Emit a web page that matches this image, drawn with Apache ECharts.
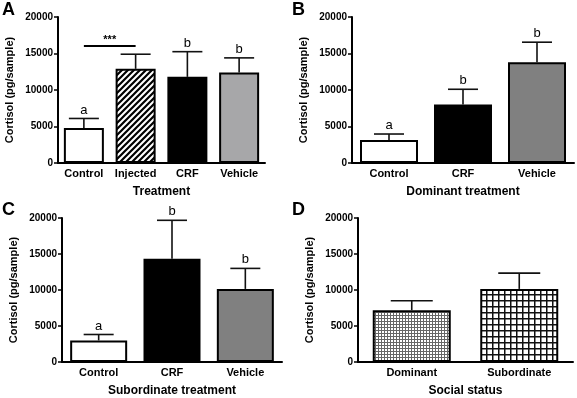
<!DOCTYPE html>
<html>
<head>
<meta charset="utf-8">
<script src="https://cdn.jsdelivr.net/npm/echarts@6/dist/echarts.min.js"></script>
<style>
  html, body { margin: 0; padding: 0; background: #fff; }
  #chart { width: 577px; height: 398px; }
</style>
</head>
<body>
<div id="chart"></div>
<script>
// values (mean and upper error = SEM)
const catsA = ['Control', 'Injected', 'CRF', 'Vehicle']
const meanA = [4800, 12900, 11800, 12400]
const semA = [1300, 2000, 3450, 2000]
const lettersA = ['a', '', 'b', 'b']
const sigA = 16000

const catsB = ['Control', 'CRF', 'Vehicle']
const meanB = [3150, 8000, 13800]
const semB = [820, 2100, 2750]
const lettersB = ['a', 'b', 'b']

const catsC = ['Control', 'CRF', 'Vehicle']
const meanC = [3000, 14350, 10150]
const semC = [820, 5330, 2850]
const lettersC = ['a', 'b', 'b']

const catsD = ['Dominant', 'Subordinate']
const meanD = [7200, 10150]
const semD = [1300, 2200]
const lettersD = ['', '']

const yTicks = [0, 5000, 10000, 15000, 20000]

const FONT = 'Arial, "Liberation Sans", sans-serif'

// fill patterns
const makePattern = (size, draw) => {
  const c = document.createElement('canvas')
  c.width = size
  c.height = size
  const ctx = c.getContext('2d')
  ctx.fillStyle = '#fff'
  ctx.fillRect(0, 0, size, size)
  draw(ctx, size)
  return { image: c, repeat: 'repeat' }
}

const hatch = makePattern(6, (ctx, s) => {
  ctx.strokeStyle = '#000'
  ctx.lineWidth = 2.2
  ctx.beginPath()
  ctx.moveTo(0, s); ctx.lineTo(s, 0)
  ctx.moveTo(-s / 2, s / 2); ctx.lineTo(s / 2, -s / 2)
  ctx.moveTo(s / 2, s * 1.5); ctx.lineTo(s * 1.5, s / 2)
  ctx.stroke()
})

const fineGrid = makePattern(3, (ctx, s) => {
  ctx.fillStyle = '#666'
  ctx.fillRect(0, 0, 1, s)
  ctx.fillRect(0, 0, s, 1)
})

const coarseGrid = makePattern(6, (ctx, s) => {
  ctx.fillStyle = '#111'
  ctx.fillRect(0, 0, 1.5, s)
  ctx.fillRect(0, 0, s, 1.5)
})

const fillsA = ['#fff', hatch, '#000', '#a7a7a9']
const fillsB = ['#fff', '#000', '#808080']
const fillsC = ['#fff', '#000', '#808080']
const fillsD = [fineGrid, coarseGrid]

const panels = [
  { letter: 'A', cats: catsA, mean: meanA, sem: semA, letters: lettersA, fills: fillsA, name: 'Treatment',
    grid: { left: 58, top: 17, width: 207, height: 146 }, barWidth: 40, cap: 30, title: { left: 2, top: 1 } },
  { letter: 'B', cats: catsB, mean: meanB, sem: semB, letters: lettersB, fills: fillsB, name: 'Dominant treatment',
    grid: { left: 352, top: 17, width: 222, height: 146 }, barWidth: 58, cap: 30, title: { left: 292, top: 1 } },
  { letter: 'C', cats: catsC, mean: meanC, sem: semC, letters: lettersC, fills: fillsC, name: 'Subordinate treatment',
    grid: { left: 62, top: 218, width: 220, height: 146 }, barWidth: 57, cap: 30, title: { left: 2, top: 201 } },
  { letter: 'D', cats: catsD, mean: meanD, sem: semD, letters: lettersD, fills: fillsD, name: 'Social status',
    grid: { left: 358, top: 218, width: 215, height: 146 }, barWidth: 78, cap: 42, title: { left: 292, top: 201 } }
]

const errorSeries = (p, i) => ({
  type: 'custom',
  xAxisIndex: i,
  yAxisIndex: i,
  z: 1,
  silent: true,
  data: p.mean.map((m, k) => [k, m, m + p.sem[k]]),
  renderItem: (params, api) => {
    const lo = api.coord([api.value(0), api.value(1)])
    const hi = api.coord([api.value(0), api.value(2)])
    const half = p.cap / 2
    const style = { stroke: '#111', lineWidth: 1.6 }
    const children = [
      { type: 'line', shape: { x1: lo[0], y1: lo[1], x2: hi[0], y2: hi[1] }, style },
      { type: 'line', shape: { x1: hi[0] - half, y1: hi[1], x2: hi[0] + half, y2: hi[1] }, style }
    ]
    const t = p.letters[params.dataIndex]
    if (t) {
      children.push({
        type: 'text',
        style: { text: t, x: hi[0], y: hi[1] - 2, align: 'center', verticalAlign: 'bottom',
          fontSize: 13, fontFamily: FONT, fill: '#000' }
      })
    }
    return { type: 'group', children }
  }
})

const barSeries = (p, i) => {
  const s = {
    type: 'bar',
    xAxisIndex: i,
    yAxisIndex: i,
    z: 3,
    barWidth: p.barWidth,
    silent: true,
    data: p.mean.map((m, k) => ({
      value: m,
      itemStyle: { color: p.fills[k], borderColor: '#000', borderWidth: 2 }
    }))
  }
  if (i === 0) {
    s.markLine = {
      silent: true,
      symbol: 'none',
      lineStyle: { color: '#000', width: 2, type: 'solid' },
      label: { show: true, position: 'middle', formatter: '***', color: '#000',
        fontFamily: FONT, fontWeight: 'bold', fontSize: 11, distance: 1 },
      data: [[{ coord: [catsA[0], sigA] }, { coord: [catsA[1], sigA] }]]
    }
  }
  return s
}

const chart = echarts.init(document.getElementById('chart'), null, { renderer: 'canvas' })

chart.setOption({
  animation: false,
  backgroundColor: '#fff',
  title: panels.map(p => ({
    text: p.letter,
    left: p.title.left,
    top: p.title.top,
    padding: 0,
    textStyle: { fontSize: 18, fontWeight: 'bold', fontFamily: FONT, color: '#000' }
  })),
  grid: panels.map(p => p.grid),
  xAxis: panels.map((p, i) => ({
    type: 'category',
    gridIndex: i,
    data: p.cats,
    name: p.name,
    nameLocation: 'middle',
    nameGap: 23,
    nameTextStyle: { fontSize: 12, fontWeight: 'bold', fontFamily: FONT, color: '#000' },
    axisLine: { lineStyle: { color: '#000', width: 2 } },
    axisTick: { alignWithLabel: true, length: 4, lineStyle: { color: '#000', width: 1.5 } },
    axisLabel: { fontSize: 11, fontWeight: 'bold', fontFamily: FONT, color: '#000', margin: 5, interval: 0 }
  })),
  yAxis: panels.map((p, i) => ({
    type: 'value',
    gridIndex: i,
    min: yTicks[0],
    max: yTicks[yTicks.length - 1],
    interval: yTicks[1] - yTicks[0],
    name: 'Cortisol (pg/sample)',
    nameLocation: 'middle',
    nameGap: 43,
    nameTextStyle: { fontSize: 11, fontWeight: 'bold', fontFamily: FONT, color: '#000' },
    axisLine: { show: true, lineStyle: { color: '#000', width: 2 } },
    axisTick: { show: true, length: 4, lineStyle: { color: '#000', width: 1.5 } },
    axisLabel: { fontSize: 10, fontWeight: 'bold', fontFamily: FONT, color: '#000', margin: 5,
      formatter: v => String(v) },
    splitLine: { show: false }
  })),
  series: panels.flatMap((p, i) => [barSeries(p, i), errorSeries(p, i)])
})
</script>
</body>
</html>
